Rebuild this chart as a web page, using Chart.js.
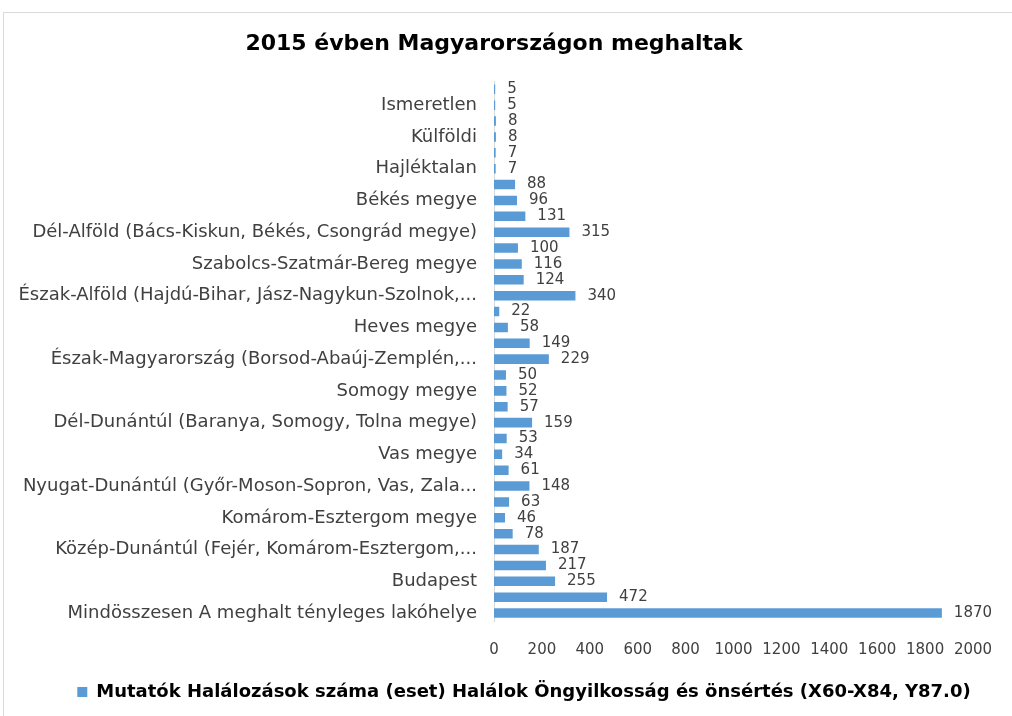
<!DOCTYPE html>
<html lang="hu">
<head>
  <meta charset="UTF-8">
  <title>2015 évben Magyarországon meghaltak</title>
  <script src="https://cdn.jsdelivr.net/npm/chart.js"></script>
  <style>
    body {
      margin: 0;
      background-color: #fff;
      overflow: hidden;
    }
    #frame {
      position: absolute;
      left: 3px;
      top: 12px;
      width: 1100px;
      height: 800px;
      border: 1px solid #d9d9d9;
    }
    #wrap {
      position: relative;
      width: 1012px;
      height: 716px;
    }
  </style>
</head>
<body>
  <div id="frame"></div>
  <div id="wrap">
    <canvas id="chart"></canvas>
  </div>

  <script>
    // categories in data order (first one is drawn at the bottom, like Excel)
    const categories = [
      "Mindösszesen A meghalt tényleges lakóhelye",
      "Közép-Magyarország (Budapest, Pest megye)",
      "Budapest",
      "Pest megye",
      "Közép-Dunántúl (Fejér, Komárom-Esztergom,...",
      "Fejér megye",
      "Komárom-Esztergom megye",
      "Veszprém megye",
      "Nyugat-Dunántúl (Győr-Moson-Sopron, Vas, Zala...",
      "Győr-Moson-Sopron megye",
      "Vas megye",
      "Zala megye",
      "Dél-Dunántúl (Baranya, Somogy, Tolna megye)",
      "Baranya megye",
      "Somogy megye",
      "Tolna megye",
      "Észak-Magyarország (Borsod-Abaúj-Zemplén,...",
      "Borsod-Abaúj-Zemplén megye",
      "Heves megye",
      "Nógrád megye",
      "Észak-Alföld (Hajdú-Bihar, Jász-Nagykun-Szolnok,...",
      "Hajdú-Bihar megye",
      "Szabolcs-Szatmár-Bereg megye",
      "Jász-Nagykun-Szolnok megye",
      "Dél-Alföld (Bács-Kiskun, Békés, Csongrád megye)",
      "Bács-Kiskun megye",
      "Békés megye",
      "Csongrád megye",
      "Hajléktalan",
      "Hajléktalan",
      "Külföldi",
      "Külföldi",
      "Ismeretlen",
      "Ismeretlen"
    ];

    const deaths = [
      1870, 472, 255, 217, 187, 78, 46, 63, 148, 61, 34, 53,
      159, 57, 52, 50, 229, 149, 58, 22, 340, 124, 116, 100,
      315, 131, 96, 88, 7, 7, 8, 8, 5, 5
    ];

    const xTicks = [0, 200, 400, 600, 800, 1000, 1200, 1400, 1600, 1800, 2000];

    const seriesName = "Mutatók Halálozások száma (eset) Halálok Öngyilkosság és önsértés (X60-X84, Y87.0)";

    // value labels to the right of each bar
    const valueLabels = {
      id: "valueLabels",
      afterDatasetsDraw(chart) {
        const ctx = chart.ctx;
        const meta = chart.getDatasetMeta(0);
        ctx.save();
        ctx.font = "15px 'DejaVu Sans'";
        ctx.fillStyle = "#404040";
        ctx.textAlign = "left";
        ctx.textBaseline = "middle";
        meta.data.forEach((bar, i) => {
          ctx.fillText(String(deaths[i]), bar.x + 12, bar.y);
        });
        ctx.restore();
      }
    };

    // the legend sits a bit right of centre in the original
    const legendShift = {
      id: "legendShift",
      afterLayout(chart) {
        chart.legend.left += 30;
        chart.legend.right += 30;
      }
    };

    new Chart(document.getElementById("chart"), {
      type: "bar",
      data: {
        labels: categories,
        datasets: [{
          label: seriesName,
          data: deaths,
          backgroundColor: "#5b9bd5",
          categoryPercentage: 1,
          barPercentage: 0.6
        }]
      },
      options: {
        indexAxis: "y",
        responsive: true,
        maintainAspectRatio: false,
        animation: false,
        layout: { padding: { left: 15, right: 39, top: 0, bottom: 5 } },
        plugins: {
          title: {
            display: true,
            text: "2015 évben Magyarországon meghaltak",
            color: "#000",
            font: { family: "'DejaVu Sans'", size: 22, weight: "bold" },
            padding: { top: 31, bottom: 24 }
          },
          legend: {
            position: "bottom",
            labels: {
              color: "#000",
              boxWidth: 10,
              boxHeight: 10,
              padding: 22,
              font: { family: "'DejaVu Sans'", size: 18, weight: "bold" }
            }
          },
          tooltip: { enabled: false }
        },
        scales: {
          x: {
            min: 0,
            max: 2000,
            afterBuildTicks(axis) {
              axis.ticks = xTicks.map(v => ({ value: v }));
            },
            afterFit(axis) {
              axis.height = 40;
            },
            grid: { display: false },
            border: { display: false },
            ticks: {
              color: "#404040",
              padding: 12,
              font: { family: "'DejaVu Sans'", size: 15 },
              callback: (v) => String(v)
            }
          },
          y: {
            reverse: true,
            grid: { display: false },
            border: { display: true, color: "#d9d9d9" },
            ticks: {
              autoSkip: false,
              color: "#404040",
              padding: 9,
              font: { family: "'DejaVu Sans'", size: 18 },
              callback(value, index) {
                return index % 2 === 0 ? categories[index] : "";
              }
            }
          }
        }
      },
      plugins: [valueLabels, legendShift]
    });
  </script>
</body>
</html>
